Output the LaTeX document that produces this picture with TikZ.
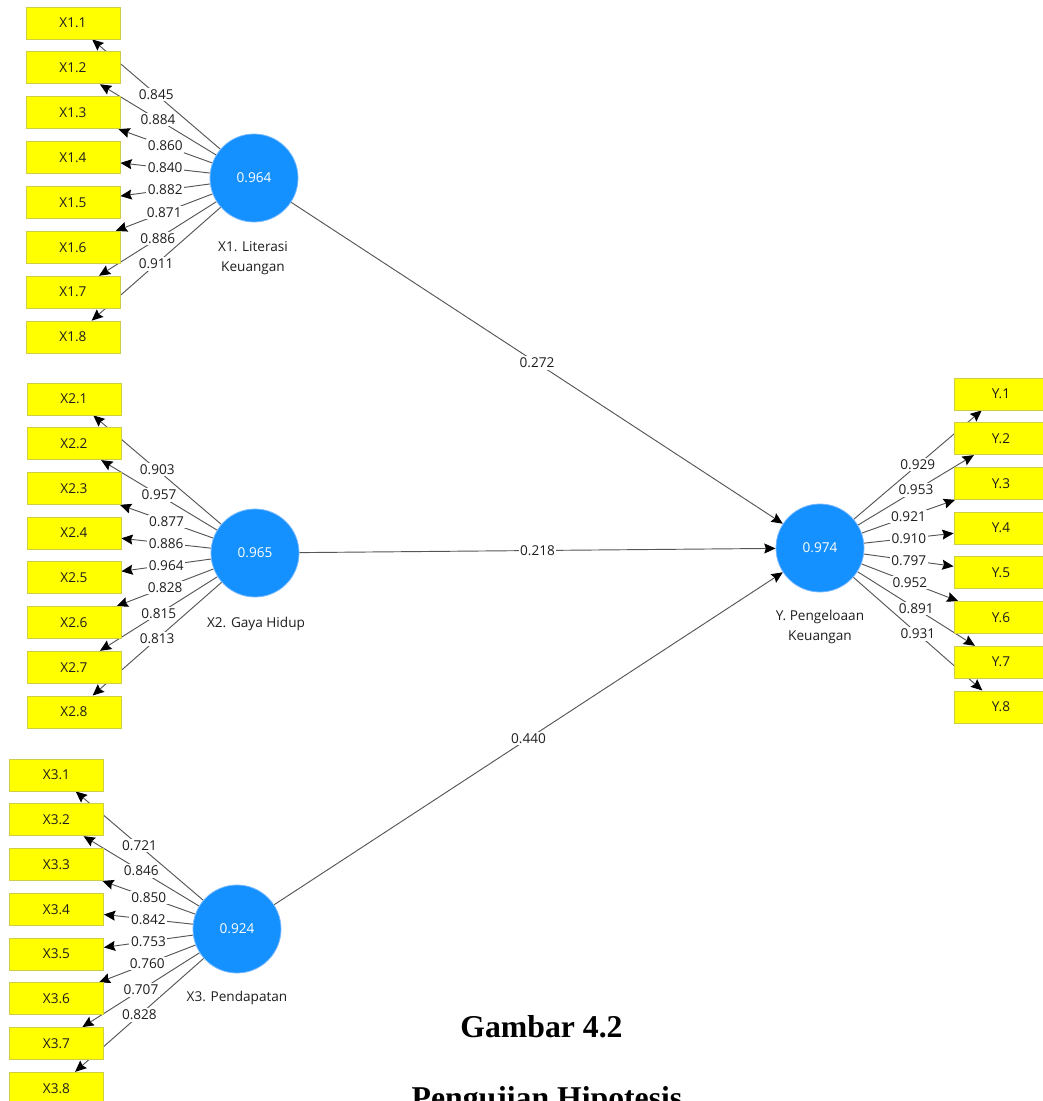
\documentclass[tikz,border=0pt]{standalone}
\usepackage{fontspec}
\setmainfont{Open Sans}
\newfontfamily\timesfont{Liberation Serif}
\usetikzlibrary{arrows.meta}
\pgfdeclarelayer{bg}
\pgfdeclarelayer{mid}
\pgfsetlayers{bg,mid,main}
\definecolor{ind}{RGB}{255,255,0}
\definecolor{indb}{RGB}{205,205,70}
\definecolor{lat}{RGB}{20,144,255}
\definecolor{latb}{RGB}{120,185,255}
\definecolor{edgec}{RGB}{85,85,85}
\definecolor{txt}{RGB}{30,30,30}
\begin{document}
\begin{tikzpicture}[x=0.75pt,y=-0.75pt,
  indbox/.style={draw=indb, fill=ind, line width=0.6pt, minimum width=70.5pt, minimum height=24pt, inner sep=0pt, font=\fontsize{10.2}{12}\selectfont, text=txt},
  latent/.style={circle, fill=lat, draw=latb, line width=0.6pt, minimum size=66pt, inner sep=0pt, text=white, font=\fontsize{10.2}{12}\selectfont},
  conn/.style={draw=edgec, line width=0.7pt, -{Stealth[length=8.5pt,width=7.5pt,inset=1.2pt,color=black]}},
  wt/.style={fill=white, inner sep=1.2pt, font=\fontsize{10.2}{12}\selectfont, text=txt},
  lvcap/.style={align=center, font=\fontsize{10.2}{15}\selectfont, text=txt},
  ttl/.style={font=\timesfont\bfseries\fontsize{23.8}{28}\selectfont, anchor=base, text=black}
]
\useasboundingbox (0,0) rectangle (1043,1101);
\clip (0,0) rectangle (1043,1101);

% latent variables
\node[latent] (LX1) at (254,178) {0.964};
\node[latent] (LX2) at (255,553) {0.965};
\node[latent] (LX3) at (237,929) {0.924};
\node[latent] (LY)  at (820,548) {0.974};

\node[lvcap] (cX1) at (253,258) {X1. Literasi\\Keuangan};
\node[lvcap] (cX2) at (256,624) {X2. Gaya Hidup};
\node[lvcap] (cX3) at (237,998) {X3. Pendapatan};
\node[lvcap] (cY)  at (820,627) {Y. Pengeloaan\\Keuangan};

% indicators
\foreach \i in {1,...,8} {
  \node[indbox] (a\i) at (73,{23+44.86*(\i-1)}) {X1.\i};
  \node[indbox] (b\i) at (74,{399+44.7*(\i-1)}) {X2.\i};
  \node[indbox] (c\i) at (56.5,{775+44.75*(\i-1)}) {X3.\i};
  \node[indbox] (y\i) at (1001,{394+44.7*(\i-1)}) {Y.\i};
}

% outer loadings
\begin{pgfonlayer}{bg}
\foreach \i in {1,...,8} {
  \draw[conn] (LX1) -- (a\i);
  \draw[conn] (LX2) -- (b\i);
  \draw[conn] (LX3) -- (c\i);
  \draw[conn] (LY) -- (y\i);
}
\draw[conn] (LX1) -- (LY);
\draw[conn] (LX2) -- (LY);
\draw[conn] (LX3) -- (LY);
\end{pgfonlayer}

\begin{pgfonlayer}{mid}
\foreach \i/\w in {1/0.845,2/0.884,3/0.860,4/0.840,5/0.882,6/0.871,7/0.886,8/0.911}
  \path (LX1) -- (a\i) node[midway,wt] {\w};
\foreach \i/\w in {1/0.903,2/0.957,3/0.877,4/0.886,5/0.964,6/0.828,7/0.815,8/0.813}
  \path (LX2) -- (b\i) node[midway,wt] {\w};
\foreach \i/\w in {1/0.721,2/0.846,3/0.850,4/0.842,5/0.753,6/0.760,7/0.707,8/0.828}
  \path (LX3) -- (c\i) node[midway,wt] {\w};
\foreach \i/\w in {1/0.929,2/0.953,3/0.921,4/0.910,5/0.797,6/0.952,7/0.891,8/0.931}
  \path (LY) -- (y\i) node[midway,wt] {\w};
\path (LX1) -- (LY) node[midway,wt] {0.272};
\path (LX2) -- (LY) node[midway,wt] {0.218};
\path (LX3) -- (LY) node[midway,wt] {0.440};
\end{pgfonlayer}

% caption
\node[ttl] (t1) at (541.5,1037) {Gambar 4.2};
\node[ttl] (t2) at (547,1108) {Pengujian Hipotesis};
\end{tikzpicture}
\end{document}
